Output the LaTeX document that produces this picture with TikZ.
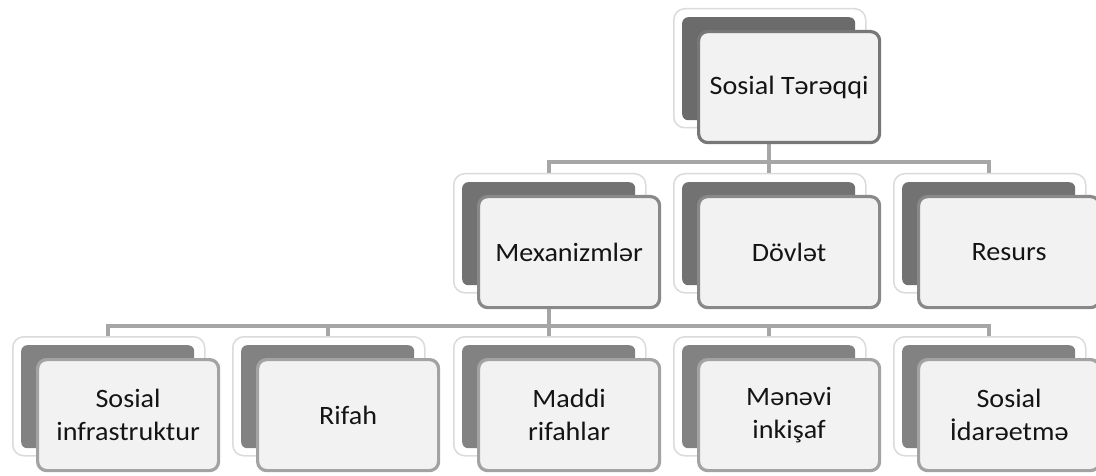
\documentclass[tikz,border=0pt]{standalone}
\usepackage{fontspec}
\setmainfont{Carlito}[FakeStretch=1.06]
\usetikzlibrary{backgrounds}
\definecolor{darkA}{HTML}{6B6B6B}
\definecolor{darkB}{HTML}{727272}
\definecolor{darkC}{HTML}{828282}
\definecolor{edgeA}{HTML}{777777}
\definecolor{edgeB}{HTML}{898989}
\definecolor{edgeC}{HTML}{A3A3A3}
\definecolor{frontfill}{HTML}{F2F2F2}
\definecolor{conncol}{HTML}{A6A6A6}
\definecolor{txt}{HTML}{141414}
\tikzset{
  halo/.style={anchor=north west, rectangle, rounded corners=11pt, minimum width=192pt, minimum height=119pt, fill=white, draw=black!14, line width=1.5pt, inner sep=0pt},
  darkbox/.style={anchor=north west, rectangle, rounded corners=6pt, minimum width=173pt, minimum height=103pt, inner sep=0pt},
  frontbox/.style={anchor=north west, rectangle, rounded corners=9pt, minimum width=181pt, minimum height=111pt, fill=frontfill, line width=3.2pt, inner sep=0pt, align=center, font=\fontsize{26.5}{33}\selectfont, text=txt},
  lvA/.style={fill=darkA},
  lvB/.style={fill=darkB},
  lvC/.style={fill=darkC},
  fA/.style={draw=edgeA},
  fB/.style={draw=edgeB},
  fC/.style={draw=edgeC},
  conn/.style={draw=conncol, line width=4pt}
}
\newcommand\unitbox[6]{%
  \node[halo] (#1h) at (#2-9,#3-9) {};
  \node[darkbox,#4] (#1d) at (#2,#3) {};
  \node[frontbox,#5] (#1f) at (#2+15,#3+13) {#6};
}
\begin{document}
\begin{tikzpicture}[x=1pt,y=-1pt]
\useasboundingbox (0,0) rectangle (1096,476);
\clip (0,0) rectangle (1096,476);
\unitbox{t}{682}{17}{lvA}{fA}{Sosial Tərəqqi}
\unitbox{ma}{462}{182}{lvB}{fB}{Mexanizmlər}
\unitbox{mb}{682}{182}{lvB}{fB}{Dövlət}
\unitbox{mc}{902}{182}{lvB}{fB}{Resurs}
\unitbox{ba}{21}{345}{lvC}{fC}{Sosial\\infrastruktur}
\unitbox{bb}{241}{345}{lvC}{fC}{Rifah}
\unitbox{bc}{462}{345}{lvC}{fC}{Maddi\\rifahlar}
\unitbox{bd}{682}{345}{lvC}{fC}{Mənəvi\\inkişaf}
\unitbox{be}{902}{345}{lvC}{fC}{Sosial\\İdarəetmə}
\begin{scope}[on background layer]
  \draw[conn] (td.south) -- ++(0,42) -| (mad.north);
  \draw[conn] (td.south) -- ++(0,42) -| (mcd.north);
  \draw[conn] (td.south) -- (mbd.north);
  \draw[conn] (mad.south) -- ++(0,41) -| (bad.north);
  \draw[conn] (mad.south) -- ++(0,41) -| (bbd.north);
  \draw[conn] (mad.south) -- (bcd.north);
  \draw[conn] (mad.south) -- ++(0,41) -| (bdd.north);
  \draw[conn] (mad.south) -- ++(0,41) -| (bed.north);
\end{scope}
\end{tikzpicture}
\end{document}
